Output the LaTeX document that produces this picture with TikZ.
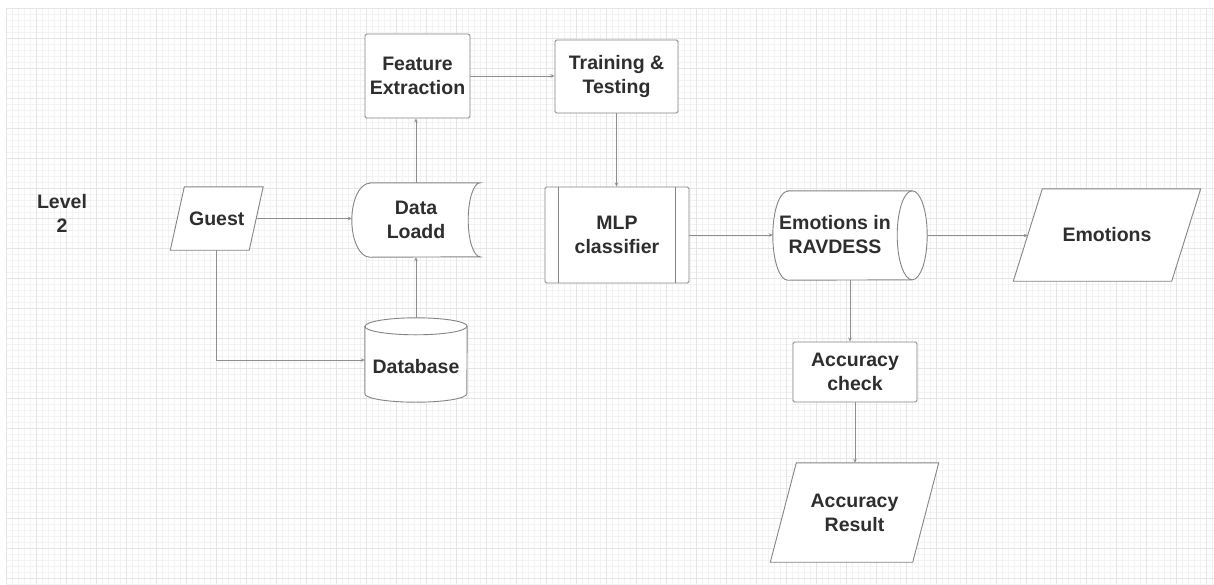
\documentclass[tikz,border=0pt]{standalone}
\usepackage{fontspec}
\setmainfont{Liberation Sans}
\usetikzlibrary{arrows.meta,calc}
\definecolor{edgecol}{HTML}{858585}
\definecolor{linecol}{HTML}{8E8E8E}
\definecolor{txtcol}{HTML}{2E2E2E}
\pgfdeclarelayer{gridlayer}
\pgfdeclarelayer{shapelayer}
\pgfsetlayers{gridlayer,shapelayer,main}
\begin{document}
\begin{tikzpicture}[x=1pt,y=-1pt,
  lbl/.style={font=\fontsize{19.5}{24}\selectfont\bfseries, text=txtcol, align=center, inner sep=0pt},
  boxnode/.style={lbl, draw=edgecol, fill=white, line width=0.9pt, rounded corners=1.5pt},
  outline/.style={draw=edgecol, fill=white, line width=0.9pt},
  conn/.style={draw=linecol, line width=0.8pt, -{Stealth[length=4pt,width=3.5pt]}},
  gridminor/.style={draw=black!5, line width=0.4pt},
  gridmajor/.style={draw=black!10, line width=0.5pt}]
\useasboundingbox (0,0) rectangle (1214,584);
\begin{pgfonlayer}{gridlayer}
  \fill[white] (0,0) rectangle (1214,584);
  \foreach \x in {6,12,...,1212} \draw[gridminor] (\x,8) -- (\x,584);
  \foreach \y in {8,14,...,584} \draw[gridminor] (6,\y) -- (1214,\y);
  \foreach \x in {6,36,...,1212} \draw[gridmajor] (\x,8) -- (\x,584);
  \foreach \y in {8,38,...,584} \draw[gridmajor] (6,\y) -- (1214,\y);
\end{pgfonlayer}

% label
\node[lbl] (level) at (62,213) {Level\\2};

% nodes
\node[lbl, minimum width=78.5, minimum height=63] (guest) at (216.75,218.5) {Guest};
\node[lbl, minimum width=128, minimum height=74] (load) at (416,220) {Data\\Loadd};
\node[lbl, minimum width=102, minimum height=84, text height=26pt, text depth=0pt] (db) at (416,360) {Database};
\node[boxnode, minimum width=105, minimum height=84] (feat) at (417.5,76) {Feature\\Extraction};
\node[boxnode, minimum width=123, minimum height=73] (train) at (616.5,76.5) {Training \&\\Testing};
\node[boxnode, minimum width=144, minimum height=96] (mlp) at (617,235) {MLP\\classifier};
\node[lbl, minimum width=154, minimum height=89] (rav) at (850,235.5) {};
\node[lbl] (ravtext) at (835,235) {Emotions in\\RAVDESS};
\node[lbl, minimum width=158, minimum height=92] (emo) at (1107,235) {Emotions};
\node[boxnode, minimum width=124, minimum height=60] (acc) at (855,372) {Accuracy\\check};
\node[lbl, minimum width=142, minimum height=99] (res) at (854.5,512.5) {Accuracy\\Result};

% outlines
\begin{pgfonlayer}{shapelayer}
  \path[outline] ($(guest.north west)+(7,0)$) -- ($(guest.north east)+(7,0)$)
     -- ($(guest.south east)+(-7,0)$) -- ($(guest.south west)+(-7,0)$) -- cycle;
  \path[outline] ($(emo.north west)+(14.5,0)$) -- ($(emo.north east)+(14.5,0)$)
     -- ($(emo.south east)+(-14.5,0)$) -- ($(emo.south west)+(-14.5,0)$) -- cycle;
  \path[outline] ($(res.north west)+(13,0)$) -- ($(res.north east)+(13,0)$)
     -- ($(res.south east)+(-13,0)$) -- ($(res.south west)+(-13,0)$) -- cycle;
  % stored data
  \path[outline] ($(load.north west)+(18,0)$) -- (load.north east)
     arc[start angle=90,end angle=270,x radius=12pt,y radius=37pt]
     -- ($(load.south west)+(18,0)$)
     arc[start angle=270,end angle=90,x radius=18pt,y radius=37pt] -- cycle;
  % database cylinder
  \path[outline] ($(db.north west)+(0,8.5)$) -- ($(db.south west)+(0,-8.5)$)
     arc[start angle=180,end angle=360,x radius=51pt,y radius=8.5pt]
     -- ($(db.north east)+(0,8.5)$)
     arc[start angle=0,end angle=180,x radius=51pt,y radius=8.5pt] -- cycle;
  \draw[draw=edgecol, line width=0.9pt] ($(db.north west)+(0,8.5)$)
     arc[start angle=180,end angle=360,x radius=51pt,y radius=8.5pt];
  % horizontal cylinder
  \path[outline] ($(rav.north west)+(15,0)$) -- ($(rav.north east)+(-15,0)$)
     arc[start angle=90,end angle=-90,x radius=15pt,y radius=44.5pt]
     -- ($(rav.south west)+(15,0)$)
     arc[start angle=270,end angle=90,x radius=15pt,y radius=44.5pt] -- cycle;
  \draw[draw=edgecol, line width=0.9pt] ($(rav.north east)+(-15,0)$)
     arc[start angle=90,end angle=270,x radius=15pt,y radius=44.5pt];
\end{pgfonlayer}

% MLP inner bars
\draw[draw=edgecol, line width=0.9pt] ($(mlp.north west)+(14,0)$) -- ($(mlp.south west)+(14,0)$);
\draw[draw=edgecol, line width=0.9pt] ($(mlp.north east)+(-14,0)$) -- ($(mlp.south east)+(-14,0)$);

% connectors
\draw[conn] (guest.east) -- (guest.east -| load.west);
\draw[conn] (guest.south) -- (guest.south |- db.west) -- (db.west);
\draw[conn] (db.north) -- (load.south);
\draw[conn] (load.north) -- (load.north |- feat.south);
\draw[conn] (feat.east) -- (feat.east -| train.west);
\draw[conn] (train.south) -- (train.south |- mlp.north);
\draw[conn] (mlp.east) -- (mlp.east -| rav.west);
\draw[conn] (rav.east) -- (rav.east -| emo.west);
\draw[conn] (rav.south) -- (rav.south |- acc.north);
\draw[conn] (acc.south) -- (acc.south |- res.north);
\end{tikzpicture}
\end{document}
